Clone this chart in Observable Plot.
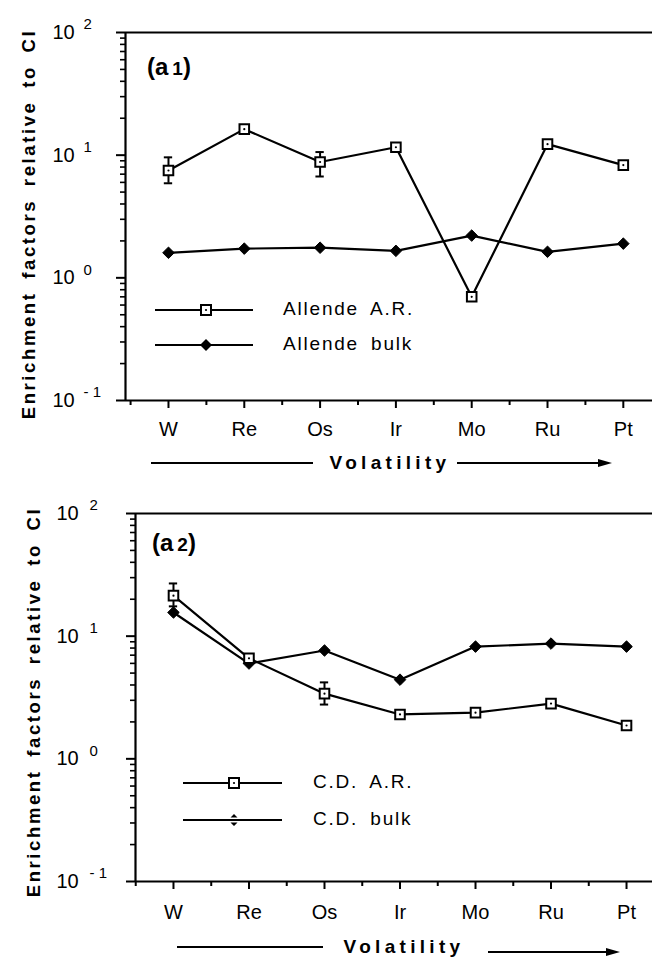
<!DOCTYPE html>
<html><head><meta charset="utf-8">
<script src="https://cdn.jsdelivr.net/npm/d3@7"></script>
<script src="https://cdn.jsdelivr.net/npm/@observablehq/plot@0.6"></script>
<style>
body{margin:0;background:#fff;}
#chart{width:652px;}
svg{display:block;}
</style></head><body><div id="chart"></div>
<script>
// ---- data ----
const elements = ["W","Re","Os","Ir","Mo","Ru","Pt"];
const allendeAR   = [7.5, 16.3, 8.8, 11.6, 0.70, 12.3, 8.3];
const allendeARHi = [9.6, null, 10.6, null, null, null, null];
const allendeARLo = [5.9, null, 6.7, null, null, null, null];
const allendeBulk = [1.60, 1.73, 1.76, 1.66, 2.21, 1.63, 1.90];
const cdAR   = [21.4, 6.6, 3.4, 2.30, 2.38, 2.82, 1.87];
const cdARHi = [26.9, null, 4.2, null, null, null, null];
const cdARLo = [17.5, null, 2.77, null, null, null, null];
const cdBulk = [15.6, 5.98, 7.64, 4.42, 8.22, 8.7, 8.22];
const yMajor = [0.1, 1, 10, 100];
const yExp = ["- 1", "0", "1", "2"];
const yMinorMult = [2,3,4,5,6,7,8,9];
const xMajor = [0,1,2,3,4,5,6];
const xMinor = [-0.5,0.5,1.5,2.5,3.5,4.5,5.5];
const yTitle = "Enrichment factors relative to CI";
const xTitle = "Volatility";

const FONT = "'Liberation Sans', Arial, Helvetica, sans-serif";

function makePanel(o){
  const rows = elements.map((e,i)=>({i, ar:o.ar[i], bulk:o.bulk[i], hi:o.hi[i], lo:o.lo[i]}));
  const errs = rows.filter(d=>d.hi!=null);
  const yMinor = [];
  for (const dec of [0.1,1,10]) for (const k of yMinorMult) yMinor.push(+(dec*k).toPrecision(3));
  const cap = 0.055;
  const svg = Plot.plot({
    width:652, height:o.height, marginTop:o.mt, marginBottom:o.mb, marginLeft:o.ml, marginRight:0,
    style:{fontFamily:FONT, background:"#fff", color:"#000", overflow:"visible"},
    x:{type:"linear", domain:o.xDomain},
    y:{type:"log", domain:[0.1,100]},
    marks:[
      Plot.axisY(yMinor,{anchor:"left", tickSize:5, tickFormat:()=>"", strokeWidth:1.6, label:null}),
      Plot.axisY(yMajor,{anchor:"left", tickSize:9, tickFormat:()=>"", strokeWidth:2, label:null}),
      Plot.axisX(xMinor,{anchor:"bottom", tickSize:5, tickFormat:()=>"", strokeWidth:2, label:null}),
      Plot.axisX(xMajor,{anchor:"bottom", tickSize:8, tickPadding:o.tp, tickFormat:i=>elements[i], fontSize:20, strokeWidth:2, label:null}),
      Plot.ruleY([100],{strokeWidth:2}),
      Plot.ruleY([0.1],{strokeWidth:2}),
      Plot.ruleX([o.xDomain[0]],{strokeWidth:2.2}),
      Plot.text(yMajor,{y:d=>d, frameAnchor:"left", text:()=>"10", textAnchor:"start", dx:o.tdx, fontSize:20}),
      Plot.text(yMajor,{y:d=>d, frameAnchor:"left", text:(d,i)=>yExp[i], textAnchor:"start", dx:o.edx, dy:-8, fontSize:15}),
      Plot.line(rows,{x:"i", y:"ar", stroke:"black", strokeWidth:2.2}),
      Plot.ruleX(errs,{x:"i", y1:"lo", y2:"hi", strokeWidth:2}),
      Plot.ruleY(errs,{y:"hi", x1:d=>d.i-cap, x2:d=>d.i+cap, strokeWidth:2}),
      Plot.ruleY(errs,{y:"lo", x1:d=>d.i-cap, x2:d=>d.i+cap, strokeWidth:2}),
      Plot.line(rows,{x:"i", y:"bulk", stroke:"black", strokeWidth:2.2}),
      Plot.dot(rows,{x:"i", y:"bulk", symbol:"diamond2", r:5.2, fill:"black", stroke:"black", strokeWidth:1}),
      Plot.dot(rows,{x:"i", y:"ar", symbol:"square", r:5.4, fill:"white", stroke:"black", strokeWidth:2}),
      Plot.dot(rows,{x:"i", y:"ar", r:1.1, fill:"black", stroke:"none"})
    ]
  });
  const s = d3.select(svg);
  const g = s.append("g").attr("font-family", FONT).attr("fill","black").attr("text-anchor","start");
  // y title
  g.append("text").attr("transform",`translate(${o.yt[0]},${o.yt[1]}) rotate(-90)`)
    .attr("text-anchor","middle").attr("dominant-baseline","middle")
    .attr("font-weight","bold").attr("font-size",18.5).style("letter-spacing","2.6px").style("word-spacing","5px")
    .text(yTitle);
  // panel label
  const pl = g.append("text").attr("x",o.pl[0]).attr("y",o.pl[1]).attr("text-anchor","start").attr("font-weight","bold").attr("font-size",24);
  pl.append("tspan").text("(a");
  pl.append("tspan").attr("dx",4).attr("font-size",19).text(o.plNum);
  pl.append("tspan").text(")");
  // legend
  const L = o.leg;
  [0,1].forEach(k=>{
    const yy = L.y[k];
    g.append("line").attr("x1",L.x1).attr("x2",L.x2).attr("y1",yy).attr("y2",yy).attr("stroke","black").attr("stroke-width",2);
    if (k===0){
      g.append("rect").attr("x",L.m-5).attr("y",yy-5).attr("width",10).attr("height",10).attr("fill","white").attr("stroke","black").attr("stroke-width",2);
      g.append("circle").attr("cx",L.m).attr("cy",yy).attr("r",1.1).attr("fill","black");
    } else if (!L.split) {
      const r = L.dr;
      g.append("path").attr("d",`M${L.m},${yy-r}L${L.m+r},${yy}L${L.m},${yy+r}L${L.m-r},${yy}Z`).attr("fill","black");
    } else {
      const m = L.m;
      g.append("path").attr("d",`M${m},${yy-6}L${m+3.5},${yy-2.5}L${m-3.5},${yy-2.5}Z M${m},${yy+6}L${m+3.5},${yy+2.5}L${m-3.5},${yy+2.5}Z`).attr("fill","black");
    }
    g.append("text").attr("x",L.tx).attr("y",yy).attr("text-anchor","start").attr("dominant-baseline","middle").attr("font-size",19)
      .style("letter-spacing","1.8px").style("word-spacing","5px").text(L.labels[k]);
  });
  // volatility row
  const V = o.vol;
  g.append("line").attr("x1",V.l1[0]).attr("x2",V.l1[1]).attr("y1",V.y).attr("y2",V.y).attr("stroke","black").attr("stroke-width",2);
  g.append("text").attr("x",V.tx).attr("y",V.y+1).attr("text-anchor","middle").attr("dominant-baseline","middle")
    .attr("font-weight","bold").attr("font-size",19).style("letter-spacing","4.3px").text(xTitle);
  g.append("line").attr("x1",V.a[0]).attr("x2",V.a[1]-10).attr("y1",V.ay).attr("y2",V.ay).attr("stroke","black").attr("stroke-width",2);
  g.append("path").attr("d",`M${V.a[1]},${V.ay}L${V.a[1]-14},${V.ay-4}L${V.a[1]-14},${V.ay+4}Z`).attr("fill","black");
  return svg;
}

const topPanel = makePanel({
  ar:allendeAR, bulk:allendeBulk, hi:allendeARHi, lo:allendeARLo,
  height:470, mt:32, mb:70, ml:125, xDomain:[-0.567, 6.385], tp:13, tdx:-73, edx:-42,
  yt:[30,224], pl:[147,75], plNum:"1",
  leg:{x1:155, x2:253, m:206, y:[310,345], tx:283, dr:6, split:false, labels:["Allende A.R.","Allende bulk"]},
  vol:{l1:[151,313], tx:390, y:463, a:[457,612], ay:463}
});
const bottomPanel = makePanel({
  ar:cdAR, bulk:cdBulk, hi:cdARHi, lo:cdARLo,
  height:493, mt:43, mb:82, ml:135, xDomain:[-0.503, 6.344], tp:15, tdx:-79, edx:-46,
  yt:[35,232], pl:[152,81], plNum:"2",
  leg:{x1:183, x2:282, m:234, y:[313,350], tx:313, dr:3.5, split:true, labels:["C.D. A.R.","C.D. bulk"]},
  vol:{l1:[177,323], tx:404, y:477, a:[488,620], ay:482}
});
document.getElementById("chart").append(topPanel, bottomPanel);
</script></body></html>
